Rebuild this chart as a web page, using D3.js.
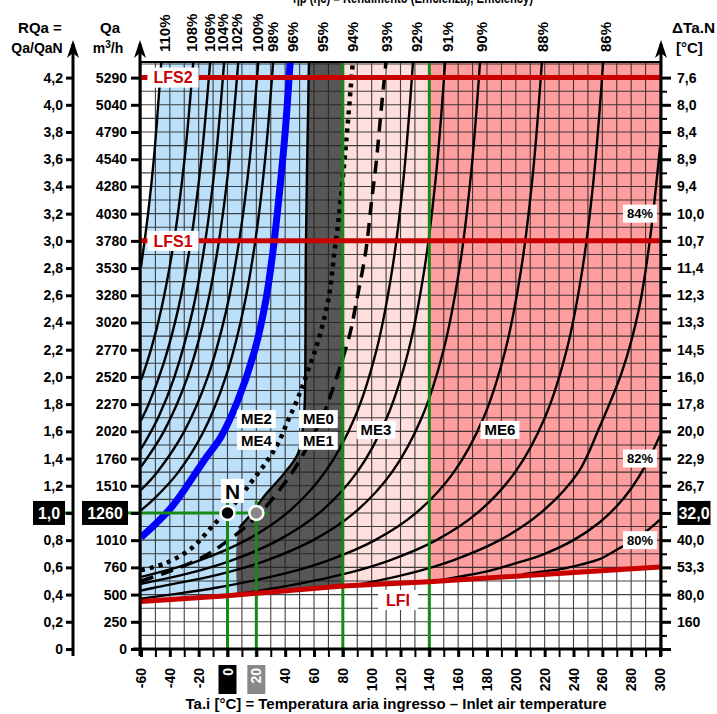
<!DOCTYPE html>
<html>
<head>
<meta charset="utf-8">
<script src="https://cdn.jsdelivr.net/npm/d3@7"></script>
<style>
  body { margin: 0; background: #fff; }
  svg text { font-family: "Liberation Sans", Arial, sans-serif; font-weight: bold; }
</style>
</head>
<body>
<div id="chart"></div>
<script>
// ---- data ----
var tempTicks = [-60, -40, -20, 0, 20, 40, 60, 80, 100, 120, 140, 160, 180, 200, 220, 240, 260, 280, 300];
var rqaValues = [0, 0.2, 0.4, 0.6, 0.8, 1.0, 1.2, 1.4, 1.6, 1.8, 2.0, 2.2, 2.4, 2.6, 2.8, 3.0, 3.2, 3.4, 3.6, 3.8, 4.0, 4.2];
var rqaLabels = ["0", "0,2", "0,4", "0,6", "0,8", "1,0", "1,2", "1,4", "1,6", "1,8", "2,0", "2,2", "2,4", "2,6", "2,8", "3,0", "3,2", "3,4", "3,6", "3,8", "4,0", "4,2"];
var qaLabels = ["0", "250", "500", "760", "1010", "1260", "1510", "1760", "2020", "2270", "2520", "2770", "3020", "3280", "3530", "3780", "4030", "4280", "4540", "4790", "5040", "5290"];
var dtaLabels = ["", "160", "80,0", "53,3", "40,0", "32,0", "26,7", "22,9", "20,0", "17,8", "16,0", "14,5", "13,3", "12,3", "11,4", "10,7", "10,0", "9,4", "8,9", "8,4", "8,0", "7,6"];

// efficiency curves: [Ta.i, RQa]
var c110 = [[-60, 2.81], [-55.1, 3.2], [-51.1, 3.6], [-45.9, 4.32]];
var c108 = [[-59.8, 1.98], [-53.1, 2.2], [-45.9, 2.5], [-37.1, 3.0], [-29.8, 3.6], [-23.7, 4.32]];
var c106 = [[-60, 1.68], [-54.7, 1.8], [-44.3, 2.1], [-34.2, 2.5], [-25.4, 3.0], [-18.1, 3.6], [-12, 4.32]];
var c104 = [[-60, 1.47], [-48.1, 1.7], [-36.8, 2.0], [-23.9, 2.5], [-15.4, 3.0], [-8.2, 3.6], [-2.3, 4.32]];
var c102 = [[-60, 1.34], [-44.1, 1.6], [-27.7, 2.0], [-14.6, 2.5], [-5.9, 3.0], [1.4, 3.6], [7.5, 4.32]];
var c100 = [[-60, 1.17], [-48.8, 1.3], [-30, 1.6], [-13.7, 2.0], [-0.6, 2.5], [8.1, 3.0], [15.4, 3.6], [21.4, 4.32]];
var c98 = [[-60, 1.02], [-51.3, 1.1], [-34.1, 1.3], [-16.5, 1.6], [-1.2, 2.0], [11.1, 2.5], [19.3, 3.0], [26.1, 3.6], [31.7, 4.32]];
var c96 = [[-60, 0.82], [-39, 1.04], [-16, 1.39], [-4.5, 1.56], [7.3, 1.83], [19, 2.2], [26.7, 2.57], [31.6, 2.93], [35.5, 3.3], [40, 3.8], [43.5, 4.32]];
var c95 = [[8, 0.89], [17, 1.0], [26, 1.13], [40, 1.3], [49, 1.44], [53, 1.7], [54, 2.1], [54.3, 2.9], [56.5, 4.32]];
var c94 = [[-60, 0.58], [-43, 0.63], [-25, 0.74], [-9, 0.92], [5, 1.07], [16, 1.22], [28, 1.39], [35, 1.51], [42, 1.68], [49, 1.85], [56, 2.05], [63, 2.27], [70, 2.57], [74, 2.9], [77.5, 3.2], [81.5, 3.63], [87, 4.32]];
var c93 = [[-60, 0.5], [-43, 0.56], [-20, 0.66], [-4.5, 0.76], [20, 0.97], [45, 1.3], [60, 1.58], [68, 1.76], [72, 1.88], [78, 2.07], [85, 2.32], [89, 2.53], [96, 2.93], [100, 3.3], [103, 3.56], [106.5, 3.95], [110, 4.32]];
var c92 = [[-60, 0.53], [-19.8, 0.65], [13, 0.8], [41.4, 1.0], [67.6, 1.3], [88.2, 1.7], [103.4, 2.2], [114.4, 2.8], [122.5, 3.5], [128.7, 4.32]];
var c91 = [[-60, 0.48], [-29.2, 0.55], [2.5, 0.65], [35.3, 0.8], [63.7, 1.0], [89.9, 1.3], [110.5, 1.7], [125.7, 2.2], [136.7, 2.8], [144.8, 3.5], [151, 4.32]];
var c90 = [[-60, 0.43], [-50.9, 0.45], [-5, 0.55], [26.7, 0.65], [59.5, 0.8], [87.9, 1.0], [114.1, 1.3], [134.7, 1.7], [149.9, 2.2], [160.9, 2.8], [169, 3.5], [175.2, 4.32]];
var c88 = [[-60, 0.37], [-39.6, 0.4], [-8, 0.45], [37.9, 0.55], [69.6, 0.65], [102.4, 0.8], [130.8, 1.0], [157, 1.3], [177.6, 1.7], [192.8, 2.2], [203.8, 2.8], [211.9, 3.5], [218.1, 4.32]];
var c86 = [[2.9, 0.4], [34.5, 0.45], [80.4, 0.55], [112.1, 0.65], [144.9, 0.8], [173.3, 1.0], [199.5, 1.3], [220.1, 1.7], [235.3, 2.2], [246.3, 2.8], [254.4, 3.5], [260.6, 4.32]];
var c84 = [[89.1, 0.47], [124.3, 0.55], [156, 0.65], [188.8, 0.8], [217.2, 1.0], [243.4, 1.3], [258, 1.63], [274, 2.05], [285.4, 2.5], [292.9, 3.0], [300, 3.69]];
var c82 = [[145, 0.5], [160, 0.53], [180, 0.57], [200, 0.63], [220, 0.7], [240, 0.8], [258, 0.93], [270, 1.05], [280, 1.18], [290, 1.35], [300, 1.57]];
var c80 = [[205, 0.55], [215, 0.565], [230, 0.585], [245, 0.62], [258, 0.66], [270, 0.73], [280, 0.79], [290, 0.86], [300, 0.95]];

var solidCurves = [c110, c108, c106, c104, c102, c100, c98, c95, c92, c91, c90, c88, c86, c84, c82, c80];
var topLabels = ["110%", "108%", "106%", "104%", "102%", "100%", "98%", "96%", "95%", "94%", "93%", "92%", "91%", "90%", "88%", "86%"];
var topLabelTemps = [-43.4, -24.6, -12.1, -3.1, 6.6, 21.2, 31.6, 45.4, 66.2, 87, 110.6, 131.4, 152.9, 176.5, 218.8, 262.5];
var sideLabels = ["84%", "82%", "80%"];
var sideLabelRqa = [3.2, 1.4, 0.8];

// limit lines and region edges
var lfi = [[-60, 0.35], [0, 0.392], [80, 0.463], [140, 0.495], [300, 0.603]];
var grayEdge = [[8, 0.2], [8, 0.89], [17, 1.0], [26, 1.13], [40, 1.3], [49, 1.44], [53, 1.7], [54, 2.1], [54.3, 2.9], [56.5, 4.32]];
var lfs1 = 3.0, lfs2 = 4.2;
var greenTemps = [80, 140];
var nominalTemps = [0, 20];
var nominalRqa = 1.0;
var zoneNames = ["ME2", "ME4", "ME0", "ME1", "ME3", "ME6"];
var zoneTemps = [20, 20, 63, 63, 103, 189];
var zoneRqa = [1.69, 1.53, 1.69, 1.53, 1.61, 1.61];

// ---- drawing ----
var W = 717, H = 714;
var x = d3.scaleLinear().domain([-60, 300]).range([141, 660]);
var y = d3.scaleLinear().domain([0, 4.3]).range([649, 64]);
var RED = "#c80000", GREEN = "#168a16";

var svg = d3.select("#chart").append("svg").attr("width", W).attr("height", H);
var defs = svg.append("defs");
var line = d3.line().x(function(d) { return x(d[0]); }).y(function(d) { return y(d[1]); }).curve(d3.curveCatmullRom.alpha(0.5));
var straight = d3.line().x(function(d) { return x(d[0]); }).y(function(d) { return y(d[1]); });

defs.append("clipPath").attr("id", "plot").append("rect")
    .attr("x", x(-60)).attr("y", 62).attr("width", x(300) - x(-60)).attr("height", y(0) - 62);
var abovePts = lfi.concat([[300, 4.32], [-60, 4.32]]);
defs.append("clipPath").attr("id", "above").append("path").attr("d", straight(abovePts) + "Z");

var plot = svg.append("g").attr("clip-path", "url(#plot)");
var fills = plot.append("g").attr("clip-path", "url(#above)");
fills.append("rect").attr("x", x(-60)).attr("y", 60).attr("width", x(80) - x(-60)).attr("height", 600).attr("fill", "#bde0fa");
fills.append("rect").attr("x", x(80)).attr("y", 60).attr("width", x(140) - x(80)).attr("height", 600).attr("fill", "#ffdede");
fills.append("rect").attr("x", x(140)).attr("y", 60).attr("width", x(300) - x(140)).attr("height", 600).attr("fill", "#ff9e9e");
// white zone left of the first curve
fills.append("path").attr("d", line(c110) + "L" + x(-60) + "," + y(4.32) + "Z").attr("fill", "#fff");
// dark zone
fills.append("path").attr("d", line(grayEdge) + "L" + x(80) + "," + y(4.32) + "L" + x(80) + "," + y(0.2) + "Z").attr("fill", "#575757");

// grid
var grid = plot.append("g").attr("stroke", "#222").attr("stroke-width", 1.1).attr("opacity", 0.85);
d3.range(-60, 301, 10).forEach(function(t) {
  grid.append("line").attr("x1", x(t)).attr("x2", x(t)).attr("y1", 62).attr("y2", y(0));
});
d3.range(1, 44).forEach(function(i) {
  grid.append("line").attr("x1", x(-60)).attr("x2", x(300)).attr("y1", y(i / 10)).attr("y2", y(i / 10));
});

// curves
var curves = plot.append("g").attr("clip-path", "url(#above)").attr("fill", "none");
solidCurves.forEach(function(c) {
  curves.append("path").attr("d", line(c)).attr("stroke", "#000").attr("stroke-width", 2.4);
});
curves.append("path").attr("d", line(c94)).attr("stroke", "#000").attr("stroke-width", 4.5).attr("stroke-dasharray", "4,5");
curves.append("path").attr("d", line(c93)).attr("stroke", "#000").attr("stroke-width", 3.5).attr("stroke-dasharray", "13,8");
curves.append("path").attr("d", line(c96)).attr("stroke", "#0000ff").attr("stroke-width", 7);

// green reference lines
greenTemps.forEach(function(t) {
  svg.append("line").attr("x1", x(t)).attr("x2", x(t)).attr("y1", 62).attr("y2", 657).attr("stroke", GREEN).attr("stroke-width", 3);
});
nominalTemps.forEach(function(t) {
  svg.append("line").attr("x1", x(t)).attr("x2", x(t)).attr("y1", y(nominalRqa) - 12).attr("y2", 657).attr("stroke", GREEN).attr("stroke-width", 3);
});
svg.append("line").attr("x1", x(-60)).attr("x2", x(28)).attr("y1", y(nominalRqa)).attr("y2", y(nominalRqa)).attr("stroke", GREEN).attr("stroke-width", 3);
svg.append("line").attr("x1", 63).attr("x2", 73).attr("y1", y(nominalRqa)).attr("y2", y(nominalRqa)).attr("stroke", GREEN).attr("stroke-width", 3);
svg.append("line").attr("x1", 128).attr("x2", 140).attr("y1", y(nominalRqa)).attr("y2", y(nominalRqa)).attr("stroke", GREEN).attr("stroke-width", 3);

// red limit lines
[lfs1, lfs2].forEach(function(r) {
  svg.append("line").attr("x1", x(-60)).attr("x2", x(300)).attr("y1", y(r)).attr("y2", y(r)).attr("stroke", RED).attr("stroke-width", 5);
});
svg.append("path").attr("d", straight(lfi)).attr("stroke", RED).attr("stroke-width", 5).attr("fill", "none");

// labels in white boxes
function boxLabel(cx, cy, txt, size, color, padX, h) {
  var g = svg.append("g");
  var t = g.append("text").attr("x", cx).attr("y", cy).attr("text-anchor", "middle").attr("dy", "0.36em")
    .attr("font-size", size).attr("fill", color).text(txt);
  var w = t.node().getComputedTextLength() + 2 * padX;
  g.insert("rect", "text").attr("x", cx - w / 2).attr("y", cy - h / 2).attr("width", w).attr("height", h).attr("fill", "#fff");
  return g;
}
boxLabel(173, y(lfs2), "LFS2", 16, RED, 6, 20);
boxLabel(173, y(lfs1), "LFS1", 16, RED, 6, 20);
boxLabel(398, 600, "LFI", 16, RED, 8, 20);
zoneNames.forEach(function(n, i) {
  boxLabel(x(zoneTemps[i]), y(zoneRqa[i]), n, 15, "#000", 4, 18);
});
sideLabels.forEach(function(n, i) {
  boxLabel(640, y(sideLabelRqa[i]), n, 13, "#000", 4, 18);
});
boxLabel(x(nominalTemps[0]) + 5, y(nominalRqa) - 22, "N", 21, "#000", 4, 24);

// nominal points
svg.append("circle").attr("cx", x(nominalTemps[0])).attr("cy", y(nominalRqa)).attr("r", 7).attr("fill", "#000").attr("stroke", "#fff").attr("stroke-width", 2.5);
svg.append("circle").attr("cx", x(nominalTemps[1])).attr("cy", y(nominalRqa)).attr("r", 7).attr("fill", "#888").attr("stroke", "#fff").attr("stroke-width", 2.5);

// plot frame top
svg.append("line").attr("x1", x(-60)).attr("x2", x(300)).attr("y1", 62).attr("y2", 62).attr("stroke", "#000").attr("stroke-width", 2);

// axes
function arrowAxis(ax) {
  svg.append("line").attr("x1", ax).attr("x2", ax).attr("y1", 656).attr("y2", 44).attr("stroke", "#000").attr("stroke-width", 3);
  svg.append("path").attr("d", "M" + (ax - 6) + ",58 L" + ax + ",40 L" + (ax + 6) + ",58 L" + ax + ",53Z").attr("fill", "#000");
}
arrowAxis(73);
arrowAxis(140);
arrowAxis(661);

// the 1,0 row is written in black tags below, so the axes skip it
function skipNominal(labels) {
  return function(d, i) { return rqaValues[i] === nominalRqa ? "" : labels[i]; };
}
var rqaAxis = svg.append("g").attr("transform", "translate(73,0)")
  .call(d3.axisLeft(y).tickValues(rqaValues).tickSize(7).tickPadding(3).tickFormat(skipNominal(rqaLabels)));
var qaAxis = svg.append("g").attr("transform", "translate(140,0)")
  .call(d3.axisLeft(y).tickValues(rqaValues).tickSize(9).tickPadding(4).tickFormat(skipNominal(qaLabels)));
var dtAxis = svg.append("g").attr("transform", "translate(661,0)")
  .call(d3.axisRight(y).tickValues(rqaValues).tickSize(10).tickPadding(6).tickFormat(skipNominal(dtaLabels)));
svg.append("g").attr("transform", "translate(661,0)")
  .call(d3.axisRight(y).tickValues(d3.range(1, 43, 2).map(function(i) { return i / 10; })).tickSize(6).tickFormat(""))
  .call(function(g) { g.select(".domain").remove(); g.selectAll(".tick line").attr("stroke-width", 2); });
[rqaAxis, qaAxis, dtAxis].forEach(function(a) {
  a.select(".domain").remove();
  a.selectAll(".tick line").attr("stroke", "#000").attr("stroke-width", 3);
  a.selectAll(".tick text").attr("font-size", 14).attr("fill", "#000").attr("font-family", "Liberation Sans, Arial, sans-serif");
});

var xAxis = svg.append("g").attr("transform", "translate(0," + y(0) + ")")
  .call(d3.axisBottom(x).tickValues(d3.range(-60, 301, 10)).tickSize(8).tickFormat(""));
xAxis.select(".domain").remove();
xAxis.selectAll(".tick line").attr("stroke", "#000").attr("stroke-width", function(d) { return d % 20 === 0 ? 3 : 2; });
svg.append("line").attr("x1", 133).attr("x2", 663).attr("y1", y(0)).attr("y2", y(0)).attr("stroke", "#000").attr("stroke-width", 3);

tempTicks.forEach(function(t) {
  var g = svg.append("g").attr("transform", "translate(" + x(t) + ",665) rotate(-90)");
  if (t === nominalTemps[0] || t === nominalTemps[1]) {
    g.append("rect").attr("x", -29).attr("y", -9).attr("width", 29).attr("height", 18).attr("fill", t === 0 ? "#000" : "#888");
  }
  g.append("text").attr("x", -3).attr("dy", "0.36em").attr("text-anchor", "end").attr("font-size", 14)
    .attr("fill", (t === nominalTemps[0] || t === nominalTemps[1]) ? "#fff" : "#000").text(t);
});

// highlighted nominal labels
function blackTag(cx, cy, w, txt) {
  svg.append("rect").attr("x", cx - w / 2).attr("y", cy - 12).attr("width", w).attr("height", 24).attr("fill", "#000");
  svg.append("text").attr("x", cx).attr("y", cy).attr("dy", "0.36em").attr("text-anchor", "middle").attr("font-size", 16).attr("fill", "#fff").text(txt);
}
blackTag(49, y(nominalRqa), 32, rqaLabels[5]);
blackTag(105, y(nominalRqa), 46, qaLabels[5]);
blackTag(694, y(nominalRqa), 33, dtaLabels[5]);

// top percent labels
topLabels.forEach(function(l, i) {
  svg.append("text").attr("transform", "translate(" + x(topLabelTemps[i]) + ",52) rotate(-90)")
    .attr("dy", "0.36em").attr("font-size", 15).text(l);
});

// titles
svg.append("text").attr("x", 40).attr("y", 33).attr("text-anchor", "middle").attr("font-size", 15).text("RQa =");
svg.append("text").attr("x", 37).attr("y", 53).attr("text-anchor", "middle").attr("font-size", 14).text("Qa/QaN");
svg.append("text").attr("x", 110).attr("y", 33).attr("text-anchor", "middle").attr("font-size", 15).text("Qa");
svg.append("text").attr("x", 108).attr("y", 53).attr("text-anchor", "middle").attr("font-size", 14).html("m<tspan dy='-5' font-size='10'>3</tspan><tspan dy='5'>/h</tspan>");
svg.append("text").attr("x", 672).attr("y", 33).attr("font-size", 15).attr("textLength", 43).attr("lengthAdjust", "spacingAndGlyphs").text("ΔTa.N");
svg.append("text").attr("x", 676).attr("y", 53).attr("font-size", 15).text("[°C]");
// top title: only its lower edge shows in the picture
svg.append("text").attr("x", 413).attr("y", 3).attr("text-anchor", "middle").attr("font-size", 15)
  .attr("textLength", 240).attr("lengthAdjust", "spacingAndGlyphs").text("ηp (ηc) = Rendimento (Efficienza), Efficiency)");
svg.append("text").attr("x", 396).attr("y", 709).attr("text-anchor", "middle").attr("font-size", 15).text("Ta.i [°C] = Temperatura aria ingresso – Inlet air temperature");
</script>
</body>
</html>
